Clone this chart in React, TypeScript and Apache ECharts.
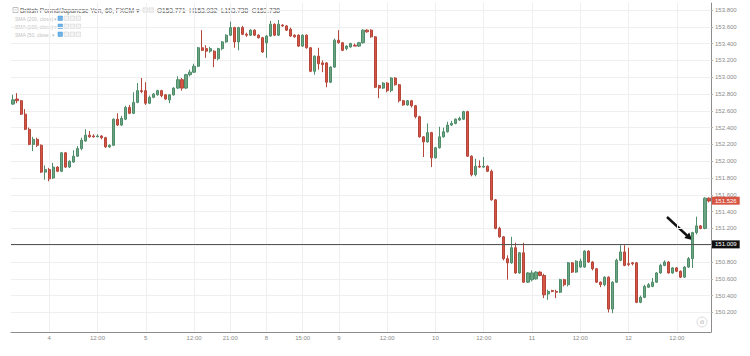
import React, { useEffect, useRef } from "react";
import * as echarts from "echarts";

const title = "British Pound/Japanese Yen, 60, FXCM ▾";
const ohlcText = "O153.771  H153.932  L153.738  C153.738";
const studies = ["SMA (200, close) ▾", "SMA (100, close) ▾", "SMA (50, close) ▾"];

const tickLabels = ["4", "12:00", "5", "12:00", "21:00", "8", "15:00", "9", "12:00", "10", "12:00", "11", "12:00", "12", "12:00"];
const tickIndex = [9, 21, 33, 45, 54, 63, 72, 81, 93, 105, 117, 129, 141, 153, 165];
const yTicks = [150.2, 150.4, 150.6, 150.8, 151.0, 151.2, 151.4, 151.6, 151.8, 152.0, 152.2, 152.4, 152.6, 152.8, 153.0, 153.2, 153.4, 153.6, 153.8];
const yMin = 149.967;
const yMax = 153.883;
const lastPrice = 151.526;
const levelPrice = 151.009;

// [open, close, low, high]
const ohlc: number[][] = [
  [152.68, 152.73, 152.67, 152.79], [152.74, 152.72, 152.69, 152.81], [152.72, 152.56, 152.55, 152.73], [152.56, 152.38, 152.37, 152.62],
  [152.38, 152.20, 152.19, 152.40], [152.20, 152.26, 152.12, 152.29], [152.26, 152.19, 152.17, 152.28], [152.19, 151.87, 151.86, 152.20],
  [151.87, 151.90, 151.78, 151.95], [151.90, 151.79, 151.76, 151.92], [151.80, 151.93, 151.79, 151.98], [151.93, 151.88, 151.87, 151.94],
  [151.88, 152.10, 151.87, 152.11], [152.10, 151.93, 151.92, 152.11], [151.93, 152.00, 151.92, 152.01], [151.99, 152.06, 151.98, 152.13],
  [152.06, 152.15, 152.05, 152.18], [152.15, 152.25, 152.13, 152.28], [152.24, 152.31, 152.23, 152.38], [152.31, 152.29, 152.28, 152.36],
  [152.30, 152.29, 152.28, 152.32], [152.29, 152.30, 152.29, 152.32], [152.30, 152.28, 152.26, 152.31], [152.28, 152.17, 152.16, 152.29],
  [152.17, 152.19, 152.16, 152.20], [152.19, 152.50, 152.18, 152.51], [152.50, 152.43, 152.42, 152.57], [152.43, 152.51, 152.42, 152.54],
  [152.50, 152.64, 152.49, 152.66], [152.64, 152.57, 152.56, 152.67], [152.57, 152.70, 152.56, 152.82], [152.70, 152.84, 152.69, 152.93],
  [152.84, 152.83, 152.81, 152.99], [152.84, 152.69, 152.67, 152.94], [152.69, 152.76, 152.68, 152.78], [152.76, 152.80, 152.75, 152.81],
  [152.79, 152.84, 152.78, 152.85], [152.84, 152.78, 152.76, 152.85], [152.79, 152.74, 152.73, 152.80], [152.73, 152.79, 152.69, 152.80],
  [152.79, 152.87, 152.78, 152.88], [152.87, 152.97, 152.86, 153.01], [152.97, 152.87, 152.84, 152.99], [152.87, 153.03, 152.86, 153.04],
  [153.03, 153.06, 153.01, 153.09], [153.06, 153.13, 153.05, 153.16], [153.13, 153.35, 153.12, 153.36], [153.35, 153.32, 153.31, 153.56],
  [153.34, 153.31, 153.23, 153.38], [153.31, 153.34, 153.29, 153.36], [153.31, 153.22, 153.12, 153.32], [153.22, 153.34, 153.20, 153.35],
  [153.34, 153.42, 153.32, 153.43], [153.42, 153.50, 153.41, 153.51], [153.50, 153.59, 153.49, 153.66], [153.59, 153.42, 153.35, 153.60],
  [153.42, 153.59, 153.32, 153.60], [153.59, 153.51, 153.50, 153.61], [153.51, 153.50, 153.48, 153.53], [153.50, 153.56, 153.49, 153.57],
  [153.56, 153.50, 153.49, 153.57], [153.50, 153.47, 153.46, 153.51], [153.47, 153.30, 153.29, 153.48], [153.41, 153.49, 153.23, 153.50],
  [153.49, 153.63, 153.48, 153.67], [153.63, 153.50, 153.49, 153.64], [153.50, 153.63, 153.49, 153.68], [153.62, 153.61, 153.60, 153.63],
  [153.61, 153.56, 153.55, 153.62], [153.57, 153.49, 153.48, 153.59], [153.50, 153.48, 153.47, 153.51], [153.50, 153.37, 153.36, 153.51],
  [153.37, 153.50, 153.36, 153.51], [153.50, 153.35, 153.34, 153.51], [153.35, 153.07, 153.06, 153.36], [153.07, 153.25, 153.03, 153.26],
  [153.25, 153.16, 153.09, 153.35], [153.17, 153.15, 153.06, 153.20], [153.17, 152.94, 152.88, 153.18], [152.94, 153.12, 152.93, 153.13],
  [153.12, 153.44, 153.11, 153.46], [153.44, 153.41, 153.40, 153.56], [153.41, 153.32, 153.31, 153.42], [153.34, 153.37, 153.32, 153.38],
  [153.36, 153.40, 153.35, 153.41], [153.38, 153.37, 153.37, 153.40], [153.37, 153.41, 153.36, 153.42], [153.41, 153.56, 153.40, 153.57],
  [153.56, 153.54, 153.53, 153.57], [153.56, 153.48, 153.47, 153.57], [153.48, 152.88, 152.87, 153.49], [152.90, 152.87, 152.75, 152.91],
  [152.87, 152.93, 152.86, 152.94], [152.93, 152.84, 152.82, 152.94], [152.84, 152.99, 152.82, 153.00], [152.99, 152.91, 152.90, 153.00],
  [152.91, 152.72, 152.70, 152.92], [152.72, 152.67, 152.66, 152.73], [152.67, 152.72, 152.66, 152.73], [152.72, 152.66, 152.64, 152.73],
  [152.66, 152.53, 152.51, 152.67], [152.53, 152.29, 152.28, 152.54], [152.29, 152.23, 152.05, 152.30], [152.23, 152.34, 152.22, 152.45],
  [152.34, 152.04, 151.93, 152.35], [152.04, 152.16, 152.03, 152.17], [152.16, 152.29, 152.15, 152.41], [152.29, 152.35, 152.28, 152.40],
  [152.35, 152.43, 152.34, 152.47], [152.43, 152.45, 152.42, 152.48], [152.45, 152.50, 152.44, 152.51], [152.49, 152.51, 152.48, 152.53],
  [152.50, 152.59, 152.49, 152.60], [152.59, 152.06, 152.05, 152.60], [152.06, 151.84, 151.82, 152.07], [151.84, 151.94, 151.82, 152.03],
  [151.94, 151.93, 151.92, 152.01], [151.93, 151.94, 151.92, 152.05], [151.94, 151.88, 151.87, 151.95], [151.88, 151.54, 151.53, 151.90],
  [151.54, 151.20, 151.19, 151.55], [151.20, 151.10, 151.09, 151.22], [151.10, 150.84, 150.82, 151.11], [150.84, 150.79, 150.59, 150.88],
  [150.79, 150.97, 150.78, 151.10], [150.97, 150.67, 150.66, 151.03], [150.67, 150.91, 150.66, 150.92], [150.91, 150.56, 150.55, 151.03],
  [150.56, 150.67, 150.55, 150.68], [150.59, 150.67, 150.57, 150.70], [150.60, 150.68, 150.59, 150.69], [150.68, 150.64, 150.63, 150.69],
  [150.64, 150.41, 150.37, 150.66], [150.42, 150.45, 150.35, 150.47], [150.46, 150.45, 150.44, 150.47], [150.45, 150.44, 150.37, 150.47],
  [150.44, 150.59, 150.43, 150.60], [150.59, 150.53, 150.51, 150.60], [150.53, 150.79, 150.51, 150.80], [150.79, 150.68, 150.67, 150.80],
  [150.68, 150.81, 150.67, 150.82], [150.74, 150.81, 150.73, 150.84], [150.74, 150.93, 150.73, 150.94], [150.93, 150.80, 150.79, 150.94],
  [150.80, 150.72, 150.70, 150.81], [150.72, 150.56, 150.55, 150.73], [150.56, 150.53, 150.50, 150.57], [150.53, 150.62, 150.51, 150.63],
  [150.62, 150.24, 150.20, 150.63], [150.24, 150.56, 150.19, 150.57], [150.56, 150.82, 150.55, 150.84], [150.82, 150.92, 150.81, 151.00],
  [150.92, 150.76, 150.75, 151.00], [150.78, 150.77, 150.75, 150.97], [150.79, 150.78, 150.76, 150.80], [150.79, 150.32, 150.31, 150.80],
  [150.32, 150.38, 150.31, 150.40], [150.38, 150.51, 150.37, 150.53], [150.50, 150.53, 150.49, 150.55], [150.51, 150.56, 150.50, 150.61],
  [150.56, 150.67, 150.55, 150.68], [150.67, 150.76, 150.66, 150.78], [150.76, 150.80, 150.75, 150.82], [150.80, 150.67, 150.66, 150.81],
  [150.67, 150.73, 150.66, 150.74], [150.73, 150.69, 150.68, 150.74], [150.69, 150.62, 150.61, 150.70], [150.62, 150.74, 150.61, 150.75],
  [150.74, 150.84, 150.73, 150.86], [150.84, 151.15, 150.73, 151.16], [151.15, 151.23, 151.13, 151.34], [151.23, 151.20, 151.19, 151.24],
  [151.20, 151.56, 151.19, 151.57], [151.56, 151.526, 151.51, 151.57],
];

const FONT = "'Liberation Sans', Arial, sans-serif";
const UP = "#6ba583";
const DOWN = "#d75442";

export default function App() {
  const ref = useRef<HTMLDivElement>(null);

  useEffect(() => {
    if (!ref.current) return;
    const chart = echarts.init(ref.current, undefined, { renderer: "svg" });
    const categories = ohlc.map((_, i) => "c" + i);
    const labelAt = (i: number) => {
      const k = tickIndex.indexOf(i);
      return k >= 0 ? tickLabels[k] : "";
    };
    const showAt = (i: number) => tickIndex.indexOf(i) >= 0;

    const studyRows: any[] = [];
    studies.forEach((s, r) => {
      const y = 18.5 + r * 8;
      studyRows.push({ type: "text", x: 15, y, style: { text: s, fontSize: 5, fill: "#c2c2c2", fontFamily: FONT, verticalAlign: "middle" } });
      [0, 1, 2, 3].forEach((b) => {
        studyRows.push({
          type: "rect",
          shape: { x: 58 + b * 6, y: y - 2.5, width: 4.5, height: 4.5 },
          style: b === 0 ? { fill: "#6fb3e6", stroke: "#4d9bd6", lineWidth: 0.5 } : { fill: "#f4f4f4", stroke: "#cfcfcf", lineWidth: 0.5 },
        });
      });
    });

    chart.setOption({
      animation: false,
      backgroundColor: "#ffffff",
      grid: { left: 11, right: 39, top: 3, bottom: 24 },
      xAxis: {
        type: "category",
        data: categories,
        boundaryGap: true,
        axisLine: { show: true, lineStyle: { color: "#8c8c8c", width: 1 } },
        axisTick: { show: false },
        axisLabel: {
          interval: (i: number) => showAt(i),
          formatter: (_v: string, i: number) => labelAt(i),
          fontSize: 6,
          color: "#8a8a8a",
          fontFamily: FONT,
          margin: 3,
        },
        splitLine: { show: true, interval: (i: number) => showAt(i), alignWithLabel: true, lineStyle: { color: "#efefef", width: 1 } },
      },
      yAxis: {
        type: "value",
        position: "right",
        min: yMin,
        max: yMax,
        axisLine: { show: true, lineStyle: { color: "#8c8c8c", width: 1 } },
        axisTick: { show: true, length: 2, customValues: yTicks, lineStyle: { color: "#b0b0b0" } },
        axisLabel: {
          customValues: yTicks,
          formatter: (v: number) => v.toFixed(3),
          fontSize: 6,
          color: "#8a8a8a",
          fontFamily: FONT,
          margin: 4,
        },
        splitLine: { show: true, lineStyle: { color: "#efefef", width: 1 } },
      },
      series: [
        {
          type: "candlestick",
          data: ohlc,
          barWidth: 2.6,
          itemStyle: {
            color: UP,
            color0: DOWN,
            borderColor: "#4f8c69",
            borderColor0: "#b4473b",
            borderWidth: 1,
          },
          markLine: {
            silent: true,
            symbol: ["none", "none"],
            animation: false,
            data: [
              {
                yAxis: levelPrice,
                lineStyle: { color: "#555555", width: 1, type: "solid" },
                label: {
                  show: true,
                  position: "end",
                  distance: 1,
                  formatter: levelPrice.toFixed(3),
                  backgroundColor: "#111111",
                  color: "#ffffff",
                  fontSize: 6,
                  fontFamily: FONT,
                  padding: [1, 3, 1, 3],
                },
              },
              {
                yAxis: lastPrice,
                lineStyle: { color: "rgba(0,0,0,0)", width: 1, type: "solid" },
                label: {
                  show: true,
                  position: "end",
                  distance: 1,
                  formatter: lastPrice.toFixed(3),
                  backgroundColor: DOWN,
                  color: "#ffffff",
                  fontSize: 6,
                  fontFamily: FONT,
                  padding: [1, 3, 1, 3],
                },
              },
            ],
          },
        },
      ],
      graphic: [
        { type: "rect", shape: { x: 13, y: 7.5, width: 5, height: 5 }, style: { fill: "#fff", stroke: "#999", lineWidth: 0.6 } },
        { type: "line", shape: { x1: 14.2, y1: 10, x2: 16.8, y2: 10 }, style: { stroke: "#999", lineWidth: 0.6 } },
        { type: "text", x: 20, y: 10, style: { text: title, fontSize: 6.5, fill: "#555555", fontFamily: FONT, verticalAlign: "middle" } },
        { type: "rect", shape: { x: 143, y: 7.8, width: 4.5, height: 4.5 }, style: { fill: "#f2f2f2", stroke: "#cfcfcf", lineWidth: 0.5 } },
        { type: "rect", shape: { x: 149, y: 7.8, width: 4.5, height: 4.5 }, style: { fill: "#f2f2f2", stroke: "#cfcfcf", lineWidth: 0.5 } },
        { type: "text", x: 157, y: 10, style: { text: ohlcText, fontSize: 6.5, fill: "#555555", fontFamily: FONT, verticalAlign: "middle" } },
        ...studyRows,
        { type: "circle", shape: { cx: 702, cy: 322, r: 5 }, style: { fill: "#ffffff", stroke: "#d0d0d0", lineWidth: 0.8 } },
        { type: "text", x: 702, y: 322, style: { text: "⊡", fontSize: 5, fill: "#999", align: "center", verticalAlign: "middle" } },
        { type: "line", shape: { x1: 667, y1: 217, x2: 687, y2: 235.5 }, style: { stroke: "#111111", lineWidth: 2.4 } },
        { type: "polygon", shape: { points: [[692, 240], [684.3, 238], [689.3, 232.6]] }, style: { fill: "#111111" } },
      ],
    });
    return () => chart.dispose();
  }, []);

  return (
    <div
      ref={ref}
      style={{ position: "absolute", left: 0, top: 0, width: 750, height: 356, background: "#fff" }}
    />
  );
}
